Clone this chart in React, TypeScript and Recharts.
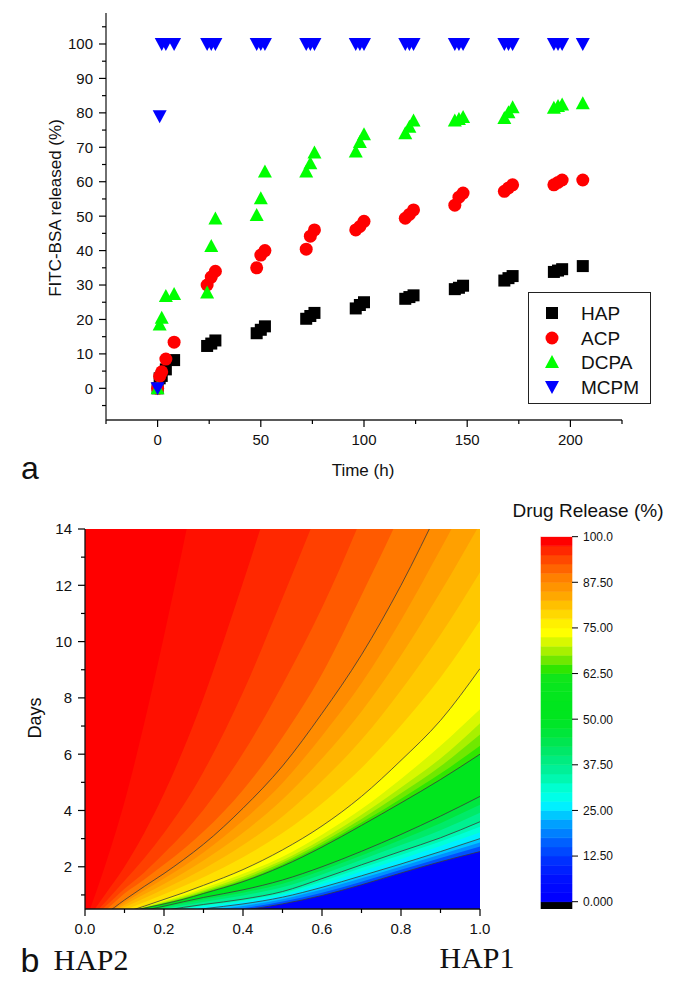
import React from 'react';
import { ScatterChart, Scatter, XAxis, YAxis, ComposedChart, Area, Line, BarChart, Bar, CartesianGrid } from 'recharts';

const FONT = '"Liberation Sans", Arial, sans-serif';
const SERIF = '"Liberation Serif", "Times New Roman", serif';

// ---------------- Panel a data ----------------
const timeHours = [0, 1, 2, 4, 8, 24, 26, 28, 48, 50, 52, 72, 74, 76, 96, 98, 100, 120, 122, 124, 144, 146, 148, 168, 170, 172, 192, 194, 196, 206];
const hapRelease = [0, 2.9, 3.6, 5.5, 8.2, 12.3, 13.0, 13.9, 16.0, 17.0, 18.0, 20.2, 21.0, 21.9, 23.2, 24.2, 25.0, 26.0, 26.5, 27.0, 28.8, 29.2, 29.8, 31.3, 32.0, 32.6, 33.8, 34.2, 34.6, 35.5];
const acpRelease = [0, 3.5, 4.8, 8.5, 13.4, 30.0, 32.3, 34.0, 35.0, 38.7, 40.0, 40.4, 44.2, 46.0, 46.0, 47.0, 48.5, 49.4, 50.5, 51.8, 53.2, 55.5, 56.7, 57.2, 58.2, 59.1, 59.1, 59.8, 60.5, 60.5];
const dcpaRelease = [0, 18.5, 20.5, 26.8, 27.4, 27.8, 41.3, 49.3, 50.3, 55.2, 63.0, 63.0, 65.4, 68.5, 68.8, 71.5, 73.8, 74.1, 76.0, 77.8, 77.8, 78.2, 78.8, 78.5, 80.2, 81.6, 81.5, 82.0, 82.4, 82.8];
const mcpmRelease = [0, 79, 100, 100, 100, 100, 100, 100, 100, 100, 100, 100, 100, 100, 100, 100, 100, 100, 100, 100, 100, 100, 100, 100, 100, 100, 100, 100, 100, 100];
const seriesNames = ['HAP', 'ACP', 'DCPA', 'MCPM'];

const xTicksA = [-25, 0, 25, 50, 75, 100, 125, 150, 175, 200, 225];
const xMajorA = [0, 50, 100, 150, 200];
const yTicksA = [-5, 0, 5, 10, 15, 20, 25, 30, 35, 40, 45, 50, 55, 60, 65, 70, 75, 80, 85, 90, 95, 100, 105];
const yMajorA = [0, 10, 20, 30, 40, 50, 60, 70, 80, 90, 100];

// ---------------- Panel b data: contour curves, days at each HAP1 fraction ----------------
const hapFraction = [0, 0.05, 0.1, 0.15, 0.2, 0.25, 0.3, 0.4, 0.5, 0.6, 0.7, 0.8, 0.9, 1.0];
const days12_5 = [0, 0.04, 0.09, 0.14, 0.19, 0.25, 0.31, 0.46, 0.68, 0.98, 1.36, 1.78, 2.18, 2.54];
const days17 = [0, 0.05, 0.12, 0.18, 0.24, 0.31, 0.38, 0.53, 0.77, 1.08, 1.47, 1.89, 2.31, 2.72];
const days21 = [0, 0.06, 0.14, 0.22, 0.29, 0.37, 0.45, 0.61, 0.85, 1.19, 1.59, 2.01, 2.44, 2.86];
const days25 = [0, 0.08, 0.16, 0.25, 0.33, 0.42, 0.51, 0.68, 0.92, 1.27, 1.68, 2.1, 2.54, 3.0];
const days30 = [0, 0.08, 0.18, 0.28, 0.38, 0.48, 0.57, 0.75, 1.0, 1.38, 1.83, 2.28, 2.74, 3.22];
const days34 = [0, 0.09, 0.19, 0.3, 0.41, 0.52, 0.62, 0.8, 1.06, 1.48, 1.96, 2.42, 2.9, 3.42];
const days37_5 = [0, 0.1, 0.21, 0.33, 0.45, 0.56, 0.66, 0.85, 1.12, 1.58, 2.07, 2.55, 3.03, 3.6];
const days42 = [0, 0.11, 0.24, 0.37, 0.5, 0.63, 0.75, 0.98, 1.27, 1.73, 2.25, 2.77, 3.3, 3.92];
const days46 = [0, 0.12, 0.27, 0.41, 0.55, 0.7, 0.84, 1.08, 1.4, 1.87, 2.4, 2.96, 3.55, 4.2];
const days50 = [0, 0.15, 0.3, 0.45, 0.6, 0.76, 0.91, 1.18, 1.53, 2.0, 2.55, 3.15, 3.8, 4.5];
const days62_5 = [0, 0.2, 0.36, 0.53, 0.68, 0.85, 1.05, 1.47, 2.02, 2.7, 3.47, 4.27, 5.1, 6.0];
const days65 = [0, 0.2, 0.36, 0.54, 0.7, 0.87, 1.08, 1.51, 2.08, 2.78, 3.57, 4.42, 5.31, 6.3];
const days67_5 = [0, 0.2, 0.37, 0.55, 0.72, 0.9, 1.12, 1.57, 2.15, 2.87, 3.7, 4.61, 5.57, 6.7];
const days70 = [0, 0.2, 0.37, 0.56, 0.75, 0.94, 1.17, 1.65, 2.23, 2.98, 3.85, 4.82, 5.85, 7.1];
const days72_5 = [0, 0.2, 0.38, 0.58, 0.79, 1.0, 1.24, 1.75, 2.36, 3.14, 4.05, 5.12, 6.3, 7.6];
const days75 = [0, 0.2, 0.38, 0.6, 0.84, 1.08, 1.34, 1.9, 2.6, 3.45, 4.5, 5.78, 7.2, 9.04];
const days77_5 = [0, 0.22, 0.47, 0.74, 1.02, 1.32, 1.63, 2.34, 3.2, 4.25, 5.51, 7.02, 8.72, 10.75];
const days80 = [0, 0.24, 0.56, 0.88, 1.21, 1.55, 1.92, 2.77, 3.79, 5.05, 6.51, 8.27, 10.24, 12.46];
const days82_5 = [0, 0.27, 0.64, 1.02, 1.39, 1.79, 2.22, 3.21, 4.39, 5.85, 7.52, 9.51, 11.76, 14.18];
const days85 = [0, 0.3, 0.73, 1.16, 1.58, 2.02, 2.51, 3.64, 4.98, 6.65, 8.52, 10.76, 13.28, 15.9];
const days87_5 = [0, 0.32, 0.82, 1.3, 1.76, 2.26, 2.8, 4.08, 5.58, 7.45, 9.53, 12.0, 14.8, 17.6];
const days90 = [0, 0.44, 1.05, 1.55, 2.08, 2.63, 3.25, 4.73, 6.6, 8.85, 11.65, 14.6, 18, 21];
const days92_5 = [0, 0.57, 1.22, 1.8, 2.48, 3.2, 4.03, 6.03, 8.47, 11.2, 14.4, 18, 21, 24];
const days95 = [0, 0.72, 1.5, 2.3, 3.2, 4.2, 5.38, 8.2, 11.55, 15, 18.5, 22, 25, 28];
const days97_5 = [0, 1.0, 2.0, 3.2, 4.6, 6.2, 8.0, 12.1, 16.5, 21, 25, 29, 33, 37];
const days99_5 = [0, 2.0, 4.3, 7.1, 10.2, 13.5, 17, 24, 31, 38, 45, 52, 59, 66];

const contourLevels = [12.5, 17, 21, 25, 30, 34, 37.5, 42, 46, 50, 62.5, 65, 67.5, 70, 72.5, 75, 77.5, 80, 82.5, 85, 87.5, 90, 92.5, 95, 97.5, 99.5];
const contourDays = [days12_5, days17, days21, days25, days30, days34, days37_5, days42, days46, days50, days62_5, days65, days67_5, days70, days72_5, days75, days77_5, days80, days82_5, days85, days87_5, days90, days92_5, days95, days97_5, days99_5];
const linedLevels = [12.5, 25, 37.5, 50, 62.5, 75, 87.5];

const xTicksB = [0, 0.1, 0.2, 0.3, 0.4, 0.5, 0.6, 0.7, 0.8, 0.9, 1.0];
const xMajorB = [0, 0.2, 0.4, 0.6, 0.8, 1.0];
const xLabelsB = ['0.0', '0.2', '0.4', '0.6', '0.8', '1.0'];
const yTicksB = [1, 2, 3, 4, 5, 6, 7, 8, 9, 10, 11, 12, 13, 14];
const yMajorB = [2, 4, 6, 8, 10, 12, 14];

const colorbarTicks = [0, 12.5, 25, 37.5, 50, 62.5, 75, 87.5, 100];
const colorbarLabels = ['0.000', '12.50', '25.00', '37.50', '50.00', '62.50', '75.00', '87.50', '100.0'];
const colorbarEdges = [0, 2.5, 5, 7.5, 10, 12.5, 15, 17.5, 20, 22.5, 25, 27.5, 30, 32.5, 35, 37.5, 40, 42.5, 45, 47.5, 50, 52.5, 55, 57.5, 60, 62.5, 65, 67.5, 70, 72.5, 75, 77.5, 80, 82.5, 85, 87.5, 90, 92.5, 95, 97.5, 100];
const colorbarUnder = -2;
const colorbarOver = 102.1;

// ---------------- styles ----------------
const seriesColors = ['#000000', '#FF0000', '#00FF00', '#0000FF'];
const belowColor = '#0000FF';
const bandColors = [
  '#0050FF', '#0090FF', '#00C8FF', '#00F0FF', '#00FFD8', '#00F8B0', '#00F090', '#00EA68', '#00E640', '#00E61E',
  '#30E600', '#70E800', '#A8F000', '#D8F800', '#FFFF00', '#FFE000', '#FFC800', '#FFB400', '#FFA000', '#FF8C00',
  '#FF7800', '#FF5A00', '#FF4000', '#FF2800', '#FF1000', '#FF0000',
];
const paletteColors = [
  '#0000FF', '#0008FF', '#0010FF', '#0020FF', '#0030FF', '#0048FF', '#0060FF', '#0080FF', '#00A0FF', '#00C8FF',
  '#00F0FF', '#00FFE8', '#00FFD0', '#00F8B0', '#00F098', '#00EC80', '#00E868', '#00E650', '#00E63A', '#00E628',
  '#00E61E', '#00E61E', '#04E61E', '#08E61E', '#10E61A', '#30E600', '#70E800', '#A8F000', '#D8F800', '#FFFF00',
  '#FFF000', '#FFD800', '#FFC000', '#FFA800', '#FF9400', '#FF8000', '#FF6400', '#FF4800', '#FF2800', '#FF0000',
];

// ---------------- build tables ----------------
const seriesData = [hapRelease, acpRelease, dcpaRelease, mcpmRelease].map((vals) => timeHours.map((t, i) => ({ t, v: vals[i] })));

const contourTable = hapFraction.map((x, j) => {
  const row: any = { x };
  contourDays.forEach((ds, i) => { row[`k${i}`] = ds[j]; });
  return row;
});

const colorbarRow = (() => {
  const row: any = { name: 'cb', under: colorbarUnder, over: colorbarOver - 100 };
  for (let i = 0; i < colorbarEdges.length - 1; i++) row[`s${i}`] = colorbarEdges[i + 1] - colorbarEdges[i];
  return [row];
})();

// ---------------- shapes & ticks ----------------
const SquareShape = (p: any) => <rect x={p.cx - 6} y={p.cy - 6} width={12} height={12} fill={seriesColors[0]} />;
const CircleShape = (p: any) => <circle cx={p.cx} cy={p.cy} r={6.5} fill={seriesColors[1]} />;
const TriUpShape = (p: any) => <polygon points={`${p.cx},${p.cy - 7} ${p.cx + 7},${p.cy + 6} ${p.cx - 7},${p.cy + 6}`} fill={seriesColors[2]} />;
const TriDownShape = (p: any) => <polygon points={`${p.cx - 7},${p.cy - 6} ${p.cx + 7},${p.cy - 6} ${p.cx},${p.cy + 7}`} fill={seriesColors[3]} />;
const shapes = [SquareShape, CircleShape, TriUpShape, TriDownShape];

const isIn = (arr: number[], v: number) => arr.some((m) => Math.abs(m - v) < 1e-9);

const makeYTick = (majors: number[], labelFn: (v: number) => string) => (props: any) => {
  const { x, y, payload } = props;
  const v = payload.value;
  const major = isIn(majors, v);
  return (
    <g>
      <line x1={x} x2={x - (major ? 7 : 4)} y1={y} y2={y} stroke="#000" strokeWidth={1.2} />
      {major && (
        <text x={x - 13} y={y} dy="0.36em" textAnchor="end" fontSize={15} fontFamily={FONT} fill="#111">{labelFn(v)}</text>
      )}
    </g>
  );
};
const makeXTick = (majors: number[], labelFn: (v: number) => string) => (props: any) => {
  const { x, y, payload } = props;
  const v = payload.value;
  const major = isIn(majors, v);
  return (
    <g>
      <line x1={x} x2={x} y1={y} y2={y + (major ? 7 : 4)} stroke="#000" strokeWidth={1.2} />
      {major && (
        <text x={x} y={y + 20} dy="0.36em" textAnchor="middle" fontSize={15} fontFamily={FONT} fill="#111">{labelFn(v)}</text>
      )}
    </g>
  );
};
const ColorbarTick = (props: any) => {
  const { x, y, payload } = props;
  const idx = colorbarTicks.findIndex((t) => Math.abs(t - payload.value) < 1e-9);
  return (
    <g>
      <line x1={x} x2={x + 6} y1={y} y2={y} stroke="#000" strokeWidth={1} />
      <text x={x + 11} y={y} dy="0.36em" textAnchor="start" fontSize={12} fontFamily={FONT} fill="#111">{colorbarLabels[idx]}</text>
    </g>
  );
};

const Txt = ({ x, y, size, children, family = FONT, rotate = 0 }: any) => (
  <div
    style={{
      position: 'absolute', left: x, top: y, transform: `translate(-50%, -50%) rotate(${rotate}deg)`,
      fontSize: size, fontFamily: family, whiteSpace: 'nowrap', lineHeight: 1, color: '#111',
    }}
  >
    {children}
  </div>
);

const LegendBox = () => (
  <div style={{ position: 'absolute', left: 528, top: 292, width: 121, height: 110, border: '1px solid #222', background: '#fff', fontFamily: FONT }}>
    {seriesNames.map((name, i) => (
      <div key={name} style={{ position: 'absolute', left: 0, top: 8 + i * 24.5, height: 24, width: 121 }}>
        <svg width={24} height={24} style={{ position: 'absolute', left: 11, top: 0 }}>
          {React.createElement(shapes[i], { cx: 12, cy: 12 })}
        </svg>
        <div style={{ position: 'absolute', left: 52, top: 2, fontSize: 19, lineHeight: '22px', color: '#111' }}>{name}</div>
      </div>
    ))}
  </div>
);

export default function App() {
  return (
    <div style={{ position: 'absolute', left: 0, top: 0, width: 679, height: 989, background: '#fff' }}>
      {/* Panel a */}
      <div style={{ position: 'absolute', left: 0, top: 0 }}>
        <ScatterChart width={679} height={480} margin={{ top: 13, right: 57, bottom: 30, left: 0 }}>
          <XAxis
            dataKey="t" type="number" domain={[-25, 225]} ticks={xTicksA} interval={0}
            tickSize={0} tickMargin={0} tickLine={false} height={30}
            axisLine={{ stroke: '#222', strokeWidth: 1.3 }}
            tick={makeXTick(xMajorA, (v) => String(v))}
          />
          <YAxis
            dataKey="v" type="number" domain={[-9.2, 109]} ticks={yTicksA} interval={0}
            tickSize={0} tickMargin={0} tickLine={false} width={106}
            axisLine={{ stroke: '#222', strokeWidth: 1.3 }}
            tick={makeYTick(yMajorA, (v) => String(v))}
          />
          {seriesData.map((d, i) => (
            <Scatter key={seriesNames[i]} name={seriesNames[i]} data={d} shape={shapes[i]} isAnimationActive={false} />
          ))}
        </ScatterChart>
      </div>
      <LegendBox />
      <Txt x={55} y={208} size={17} rotate={-90}>FITC-BSA released (%)</Txt>
      <Txt x={363} y={470} size={17}>Time (h)</Txt>
      <Txt x={30} y={468} size={32}>a</Txt>

      {/* Panel b */}
      <div style={{ position: 'absolute', left: 0, top: 500 }}>
        <ComposedChart width={500} height={460} data={contourTable} margin={{ top: 29, right: 20, bottom: 21, left: 0 }}>
          <CartesianGrid horizontal={false} vertical={false} fill={belowColor} fillOpacity={1} />
          <XAxis
            dataKey="x" type="number" domain={[0, 1]} allowDataOverflow ticks={xTicksB} interval={0}
            tickSize={0} tickMargin={0} tickLine={false} height={30}
            axisLine={{ stroke: '#111', strokeWidth: 1.3 }}
            tick={makeXTick(xMajorB, (v) => xLabelsB[xMajorB.findIndex((m) => Math.abs(m - v) < 1e-9)])}
          />
          <XAxis xAxisId="top" orientation="top" type="number" domain={[0, 1]} allowDataOverflow height={0}
            tick={false} tickLine={false} axisLine={{ stroke: '#111', strokeWidth: 1.3 }} />
          <YAxis
            type="number" domain={[0.5, 14]} allowDataOverflow ticks={yTicksB} interval={0}
            tickSize={0} tickMargin={0} tickLine={false} width={85}
            axisLine={{ stroke: '#111', strokeWidth: 1.3 }}
            tick={makeYTick(yMajorB, (v) => String(v))}
          />
          <YAxis yAxisId="right" orientation="right" type="number" domain={[0.5, 14]} allowDataOverflow width={0}
            tick={false} tickLine={false} axisLine={{ stroke: '#111', strokeWidth: 1.3 }} />
          {contourLevels.map((lv, i) => (
            <Area
              key={`f${i}`} dataKey={`k${i}`} type="monotone" baseValue={14}
              stroke="none" fill={bandColors[i]} fillOpacity={1} isAnimationActive={false} dot={false} activeDot={false}
            />
          ))}
          {contourLevels.map((lv, i) =>
            linedLevels.includes(lv) ? (
              <Line
                key={`c${i}`} dataKey={`k${i}`} type="monotone" stroke="#3a3a3a" strokeWidth={0.8}
                dot={false} activeDot={false} isAnimationActive={false}
              />
            ) : null
          )}
        </ComposedChart>
      </div>

      {/* Colorbar */}
      <div style={{ position: 'absolute', left: 520, top: 500 }}>
        <BarChart width={159} height={460} data={colorbarRow} stackOffset="sign" barCategoryGap={0}
          margin={{ top: 29, right: 47, bottom: 51, left: 21 }}>
          <YAxis
            orientation="right" type="number" domain={[colorbarUnder, colorbarOver]} allowDataOverflow ticks={colorbarTicks} interval={0}
            tickSize={0} tickMargin={0} tickLine={false} axisLine={false} width={60} tick={ColorbarTick}
          />
          <Bar dataKey="under" stackId="cb" fill="#000" stroke="#000" strokeWidth={0.6} isAnimationActive={false} />
          {colorbarEdges.slice(0, -1).map((lo, i) => (
            <Bar key={lo} dataKey={`s${i}`} stackId="cb" fill={paletteColors[i]} stroke={paletteColors[i]} strokeWidth={0.6} isAnimationActive={false} />
          ))}
          <Bar dataKey="over" stackId="cb" fill="#fff" isAnimationActive={false} />
          <XAxis dataKey="name" type="category" height={0} tick={false} tickLine={false} axisLine={{ stroke: '#111' }} />
          <XAxis xAxisId="top" dataKey="name" orientation="top" type="category" height={0} tick={false} tickLine={false} axisLine={{ stroke: '#111' }} />
          <YAxis yAxisId="left" orientation="left" type="number" domain={[colorbarUnder, colorbarOver]} width={0}
            tick={false} tickLine={false} axisLine={{ stroke: '#111' }} />
          <YAxis yAxisId="r2" orientation="right" type="number" domain={[colorbarUnder, colorbarOver]} width={0}
            tick={false} tickLine={false} axisLine={{ stroke: '#111' }} />
        </BarChart>
      </div>

      <Txt x={588} y={510} size={19}>Drug Release (%)</Txt>
      <Txt x={35} y={718} size={18} rotate={-90}>Days</Txt>
      <Txt x={30} y={960} size={34}>b</Txt>
      <Txt x={91} y={960} size={30} family={SERIF}>HAP2</Txt>
      <Txt x={477} y={958} size={30} family={SERIF}>HAP1</Txt>
    </div>
  );
}
